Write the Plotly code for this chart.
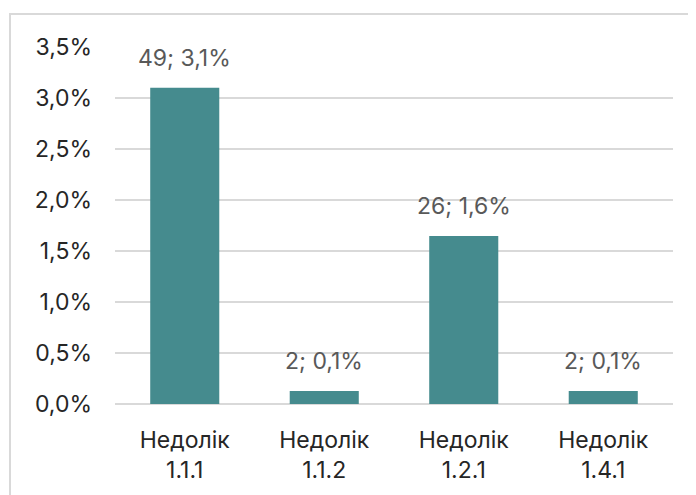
import plotly.graph_objects as go

categories = ["Недолік<br>1.1.1", "Недолік<br>1.1.2", "Недолік<br>1.2.1", "Недолік<br>1.4.1"]
counts = [49, 2, 26, 2]
shares = [0.0310, 0.00127, 0.01646, 0.00127]
tick_vals = [0, 0.005, 0.01, 0.015, 0.02, 0.025, 0.03, 0.035]

# the page body adds an 8px offset; margins are set relative to the figure
W, H = 696, 495
L, R, T, B = 107, 31, 39, 99
pw, ph = W - L - R, H - T - B

labels = [f"{n}; {s*100:.1f}%".replace(".", ",") for n, s in zip(counts, shares)]

fig = go.Figure(go.Bar(x=categories, y=shares, marker=dict(color="#458B8E", line=dict(width=0)),
                       hoverinfo="skip"))

for c, s, t in zip(categories, shares, labels):
    fig.add_annotation(x=c, y=s, text=t, showarrow=False, yanchor="bottom", yshift=14,
                       font=dict(size=23, color="#595959"))

def px_x(v):
    return (v - L) / pw

def px_y(v):
    return (H - B - v) / ph

fig.add_shape(type="rect", xref="paper", yref="paper",
              x0=px_x(2), x1=px_x(W + 20), y0=px_y(H + 20), y1=px_y(6),
              line=dict(color="#D9D9D9", width=2), fillcolor="rgba(0,0,0,0)", layer="below")

fig.update_layout(
    width=W, height=H, margin=dict(l=L, r=R, t=T, b=B, autoexpand=False),
    paper_bgcolor="white", plot_bgcolor="white",
    separators=", ",
    bargap=0.505,
    showlegend=False,
    font=dict(family="Inter, Liberation Sans, sans-serif", size=23, color="#262626"),
    xaxis=dict(showgrid=False, showline=False, ticks="", automargin=False, ticklabelstandoff=20,
               tickfont=dict(size=23, color="#262626")),
    yaxis=dict(range=[0, 0.035], tickvals=tick_vals, tickformat=".1%", showgrid=True,
               gridcolor="#D9D9D9", gridwidth=2, zeroline=True, zerolinecolor="#D9D9D9",
               zerolinewidth=2, showline=False, ticks="", ticklabelstandoff=22, automargin=False,
               tickfont=dict(size=23, color="#262626")),
)

fig.write_html("out.html")
